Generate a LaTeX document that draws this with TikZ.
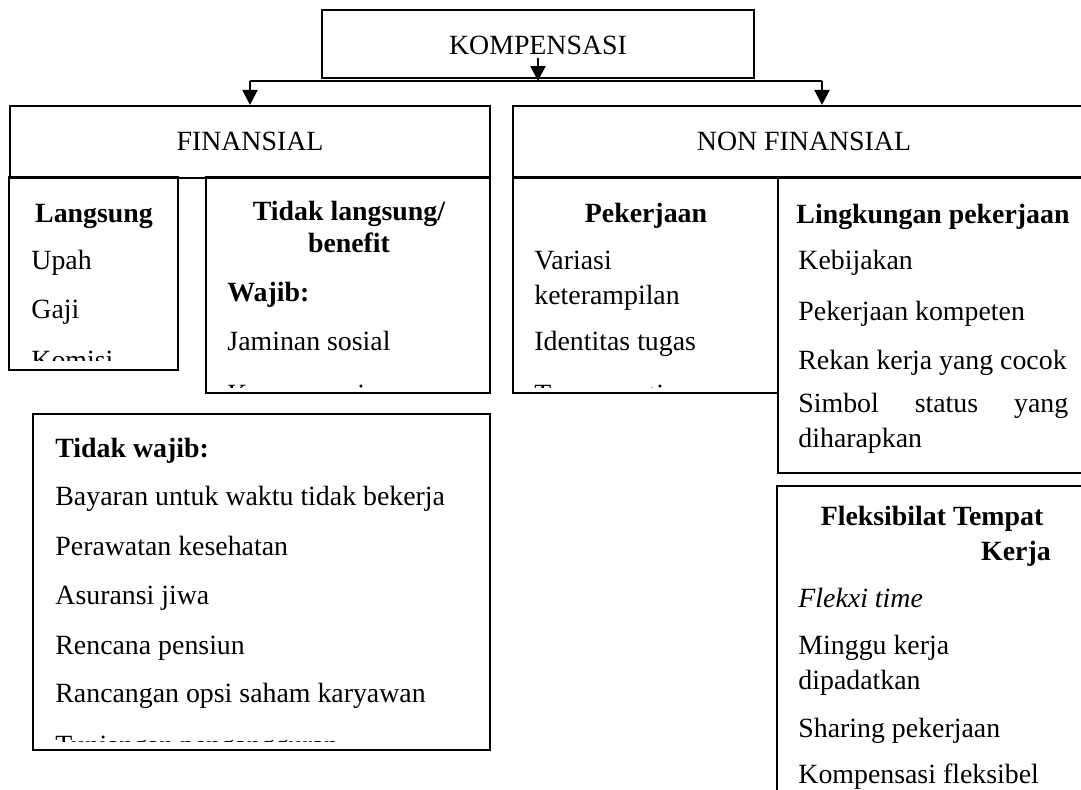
\documentclass[tikz,border=0pt]{standalone}
\usepackage{fontspec}
\setmainfont{Liberation Serif}
\usetikzlibrary{arrows.meta,fit}
\begin{document}
\begin{tikzpicture}[x=0.467pt,y=-0.467pt,
  box/.style={draw, line width=1pt, inner sep=0pt},
  txt/.style={inner sep=0pt, text height=0.66em, text depth=0pt, anchor=west,
    font=\fontsize{13}{15}\selectfont},
  ttl/.style={txt, anchor=center, font=\fontsize{13}{15}\selectfont\bfseries},
  btxt/.style={txt, font=\fontsize{13}{15}\selectfont\bfseries},
  hdr/.style={txt, anchor=center},
  conn/.style={line width=1pt, -{Triangle[length=7pt,width=7pt]}}]
\useasboundingbox (0,0) rectangle (1081,790);
\clip (0,0) rectangle (1081,790);

% --- top level ---
\node[box, fit={(322,10) (754,78)}] (komp) {};
\node[hdr] (kompT) at (538,47) {KOMPENSASI};
\coordinate (kstart) at (538,58);
\coordinate (bar) at (538,81);
\coordinate (barL) at (250,81);
\coordinate (barR) at (822,81);

\node[box, fit={(10,106) (490,178)}] (fin) {};
\node[hdr] (finT) at (250,143) {FINANSIAL};
\node[box, fit={(513,106) (1095,178)}] (nonfin) {};
\node[hdr] (nonfinT) at (804,143) {NON FINANSIAL};

\draw[conn] (kstart) -- (bar);
\draw[line width=1pt] (barL) -- (barR);
\draw[conn] (barL) -- (barL |- fin.north);
\draw[conn] (barR) -- (barR |- nonfin.north);

% --- finansial: langsung ---
\node[box, fit={(9,177) (178,370)}] (lang) {};
\begin{scope}
  \clip (9,177) rectangle (178,360);
  \node[ttl] (langT) at (94,215) {Langsung};
  \node[txt] (l1) at (31,262) {Upah};
  \node[txt] (l2) at (31,311) {Gaji};
  \node[txt] (l3) at (31,362) {Komisi};
\end{scope}

% --- finansial: tidak langsung ---
\node[box, fit={(206,177) (490,393)}] (tl) {};
\begin{scope}
  \clip (206,177) rectangle (490,387);
  \node[ttl] (tlT1) at (349,213) {Tidak langsung/};
  \node[ttl] (tlT2) at (349,245) {benefit};
  \node[btxt] (w0) at (227,294) {Wajib:};
  \node[txt] (w1) at (227,343) {Jaminan sosial};
  \node[txt] (w2) at (227,396) {Kompensasi};
\end{scope}

% --- tidak wajib ---
\node[box, fit={(33,414) (490,750)}] (tw) {};
\begin{scope}
  \clip (33,414) rectangle (490,741);
  \node[btxt] (tw0) at (55,450) {Tidak wajib:};
  \node[txt] (tw1) at (55,498) {Bayaran untuk waktu tidak bekerja};
  \node[txt] (tw2) at (55,548) {Perawatan kesehatan};
  \node[txt] (tw3) at (55,597) {Asuransi jiwa};
  \node[txt] (tw4) at (55,647) {Rencana pensiun};
  \node[txt] (tw5) at (55,695) {Rancangan opsi saham karyawan};
  \node[txt] (tw6) at (55,747) {Tunjangan pengangguran};
\end{scope}

% --- non finansial: pekerjaan ---
\node[box, fit={(513,177) (778,393)}] (pek) {};
\begin{scope}
  \clip (513,177) rectangle (778,387);
  \node[ttl] (pekT) at (646,215) {Pekerjaan};
  \node[txt] (p1) at (534,262) {Variasi};
  \node[txt] (p2) at (534,297) {keterampilan};
  \node[txt] (p3) at (534,343) {Identitas tugas};
  \node[txt] (p4) at (534,396) {Tugas penting};
\end{scope}

% --- non finansial: lingkungan pekerjaan ---
\node[box, fit={(778,177) (1095,473)}] (ling) {};
\node[ttl] (lingT) at (933,216) {Lingkungan pekerjaan};
\node[txt] (g1) at (798,262) {Kebijakan};
\node[txt] (g2) at (798,313) {Pekerjaan kompeten};
\node[txt] (g3) at (798,362) {Rekan kerja yang cocok};
\node[txt, text width=126pt] (g4) at (798,405) {Simbol\hfill status\hfill yang};
\node[txt] (g5) at (798,440) {diharapkan};

% --- fleksibilitas tempat kerja ---
\node[box, fit={(777,486) (1095,820)}] (flex) {};
\node[ttl] (flexT1) at (932,518) {Fleksibilat Tempat};
\node[ttl] (flexT2) at (1016,553) {Kerja};
\node[txt, font=\fontsize{13}{15}\selectfont\itshape] (f1) at (798,600) {Flekxi time};
\node[txt] (f2) at (798,647) {Minggu kerja};
\node[txt] (f3) at (798,682) {dipadatkan};
\node[txt] (f4) at (798,730) {Sharing pekerjaan};
\node[txt] (f5) at (798,776) {Kompensasi fleksibel};
\end{tikzpicture}
\end{document}
